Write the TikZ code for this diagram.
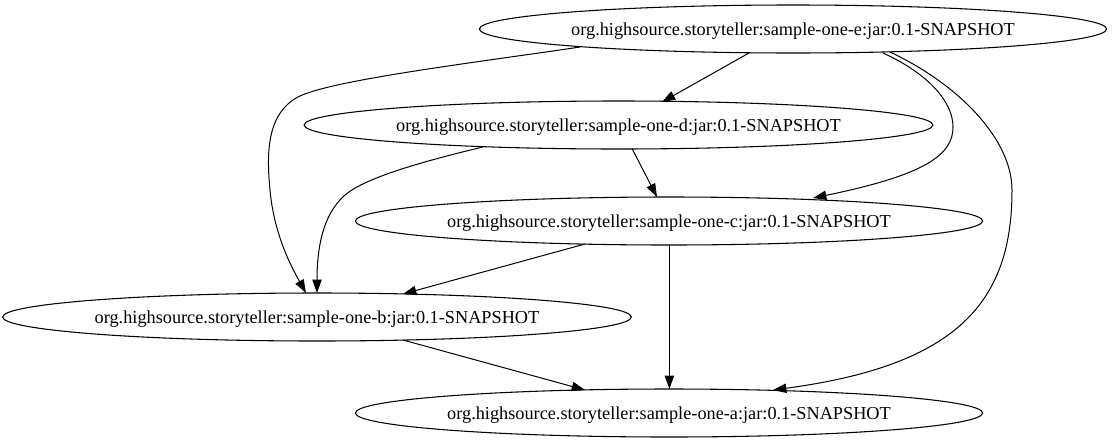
\documentclass[tikz,border=0pt]{standalone}
\usepackage{fontspec}
\setmainfont{Liberation Serif}
\usetikzlibrary{shapes.geometric,arrows.meta,calc}
\begin{document}
\begin{tikzpicture}[x=0.75pt,y=-0.75pt,
  pkg/.style={ellipse,draw,line width=0.8pt,minimum width=469.5pt,minimum height=36pt,
    inner sep=0pt,outer sep=0pt,text height=10.5pt,text depth=1.5pt,
    font=\fontsize{13.7}{16}\selectfont},
  dep/.style={-{Triangle[length=10pt,width=7pt]},line width=0.75pt}]
\useasboundingbox (0,0) rectangle (1112,443);
\node[pkg] (e) at (793,29) {org.highsource.storyteller:sample-one-e:jar:0.1-SNAPSHOT};
\node[pkg] (d) at (618.5,125) {org.highsource.storyteller:sample-one-d:jar:0.1-SNAPSHOT};
\node[pkg] (c) at (669,221) {org.highsource.storyteller:sample-one-c:jar:0.1-SNAPSHOT};
\node[pkg] (b) at (317,317) {org.highsource.storyteller:sample-one-b:jar:0.1-SNAPSHOT};
\node[pkg] (a) at (669,413) {org.highsource.storyteller:sample-one-a:jar:0.1-SNAPSHOT};
% straight edges
\draw[dep] ($(e)+(-44,24)$) -- ($(d)+(43.5,-23)$);
\draw[dep] ($(d)+(13.5,23.5)$) -- ($(c)+(-12,-24)$);
\draw[dep] ($(c)+(-84,23)$) -- ($(b)+(86,-23)$);
\draw[dep] ($(c)+(0.4,24)$) -- ($(a)+(0.4,-24)$);
\draw[dep] ($(b)+(86,23)$) -- ($(a)+(-84,-23)$);
% curved edges
\draw[dep] ($(e)+(-213,18)$) .. controls (480,62) and (330,80) .. (298,97)
  .. controls (268,113) and (266,150) .. (270,190)
  .. controls (274,235) and (292,268) .. ($(b)+(-11,-24)$);
\draw[dep] ($(d)+(-135.5,22)$) .. controls (420,162) and (365,178) .. (345,195)
  .. controls (322,215) and (317,250) .. ($(b)+(0,-24)$);
\draw[dep] ($(e)+(90,24)$) .. controls (925,72) and (953,100) .. (953,127)
  .. controls (953,155) and (925,175) .. ($(c)+(144,-23)$);
\draw[dep] ($(e)+(97,23)$) .. controls (960,85) and (1012,140) .. (1012,190)
  .. controls (1012,300) and (960,365) .. ($(a)+(104,-23)$);
\end{tikzpicture}
\end{document}
